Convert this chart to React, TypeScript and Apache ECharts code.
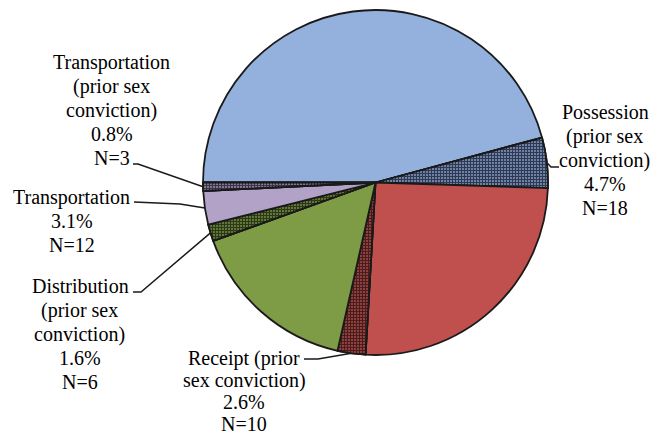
import React, { useEffect, useRef } from "react";
import * as echarts from "echarts";

const categories = [
  "Possession",
  "Possession\n(prior sex\nconviction)",
  "Receipt",
  "Receipt (prior\nsex conviction)",
  "Distribution",
  "Distribution\n(prior sex\nconviction)",
  "Transportation",
  "Transportation\n(prior sex\nconviction)",
];
const counts = [175, 18, 97, 10, 61, 6, 12, 3];
const fillColors = ["#93b1dc", "#2e3a55", "#c0504d", "#4a1c1c", "#7e9b45", "#2c3818", "#b3a2c7", "#3c3448"];
const dotColors = [null, "#a9c2e6", null, "#c9605c", null, "#8fae55", null, "#c0b0d6"];

// label anchor (center x, middle y), line height and leader elbows
const labelAnchors = [
  [345, 134],
  [605, 160],
  [453, 276],
  [244, 391],
  [303, 269],
  [80, 334],
  [72, 221],
  [112, 110],
];
const labelLineHeights = [24, 24, 24, 22, 24, 24, 24, 24];
const leaderTails = [
  null,
  [[551, 167], [559, 167]],
  null,
  [[318, 359], [304, 359]],
  null,
  [[141, 292], [133, 292]],
  [[180, 204], [134, 202]],
  [[138, 164], [133, 164]],
];

const FONT = "Liberation Serif";
const FONT_SIZE = 20;
const CENTER = [375.5, 182.5];
const RADIUS = 172.5;
const START_ANGLE = 180;

export default function App() {
  const ref = useRef<HTMLDivElement>(null);
  useEffect(() => {
    if (!ref.current) return;
    const chart = echarts.init(ref.current, null, { renderer: "svg" });
    const total = counts.reduce((a, b) => a + b, 0);

    const canvas = document.createElement("canvas");
    const ctx = canvas.getContext("2d");
    const measure = (s: string) => {
      if (!ctx) return s.length * FONT_SIZE * 0.45;
      ctx.font = `${FONT_SIZE}px "${FONT}"`;
      return ctx.measureText(s).width;
    };

    const data = categories.map((name, i) => {
      const item: any = {
        name,
        value: counts[i],
        itemStyle: { color: fillColors[i] },
      };
      if (dotColors[i]) {
        item.itemStyle.decal = {
          symbol: "rect",
          symbolSize: 0.7,
          color: dotColors[i],
          dashArrayX: [2, 1],
          dashArrayY: [2, 1],
          rotation: 0,
        };
      }
      return item;
    });

    const graphics: any[] = [];
    let cum = 0;
    categories.forEach((name, i) => {
      const pct = ((counts[i] / total) * 100).toFixed(1);
      const mid = START_ANGLE - ((cum + counts[i] / 2) / total) * 360;
      cum += counts[i];
      const rad = (mid * Math.PI) / 180;
      const edge = [CENTER[0] + RADIUS * Math.cos(rad), CENTER[1] - RADIUS * Math.sin(rad)];
      const tail = leaderTails[i];
      if (tail) {
        graphics.push({
          type: "polyline",
          shape: { points: [edge, tail[0], tail[1]] },
          style: { stroke: "#1a1a1a", lineWidth: 1.5, fill: null },
        });
      }
      const [x, y] = labelAnchors[i];
      const lh = labelLineHeights[i];
      const lines = `${name}\n${pct}%\nN=${counts[i]}`.split("\n");
      lines.forEach((line, k) => {
        const cy = y + (k - (lines.length - 1) / 2) * lh;
        graphics.push({
          type: "text",
          left: Math.round(x - measure(line) / 2),
          top: Math.round(cy - FONT_SIZE / 2),
          style: {
            text: line,
            fontFamily: FONT,
            fontSize: FONT_SIZE,
          },
        });
      });
    });

    chart.setOption({
      animation: false,
      backgroundColor: "#ffffff",
      graphic: graphics,
      series: [
        {
          type: "pie",
          center: CENTER,
          radius: RADIUS,
          startAngle: START_ANGLE,
          clockwise: true,
          itemStyle: { borderColor: "#1a1a1a", borderWidth: 1.8 },
          label: { show: false },
          labelLine: { show: false },
          emphasis: { disabled: true },
          data,
        },
      ],
    });
    return () => chart.dispose();
  }, []);
  return (
    <div
      ref={ref}
      style={{ position: "fixed", left: 0, top: 0, width: 654, height: 436 }}
    />
  );
}
